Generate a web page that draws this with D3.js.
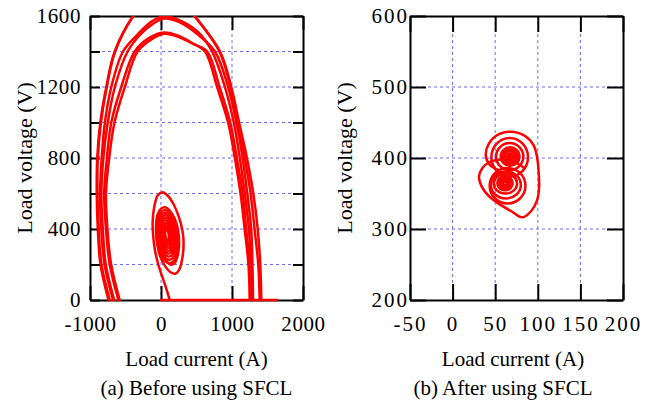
<!DOCTYPE html>
<html>
<head>
<meta charset="utf-8">
<script src="https://cdn.jsdelivr.net/npm/d3@7"></script>
<style>
  body { margin: 0; background: #fff; }
  svg text { font-family: "Liberation Serif", "Times New Roman", serif; fill: #000; }
</style>
</head>
<body>
<svg id="chart" width="656" height="404"></svg>
<script>
// ---------------- panel (a): before SFCL ----------------
const aXDomain = [-1000, 2000];
const aYDomain = [0, 1600];
const aXTicks = [-1000, 0, 1000, 2000];
const aXGrid = [0, 1000];
const aYTicks = [0, 200, 400, 600, 800, 1000, 1200, 1400, 1600];
const aYLabels = [0, 400, 800, 1200, 1600];
const aYGrid = [200, 400, 600, 800, 1000, 1200, 1400];

// large swings of the load voltage/current trajectory, [current A, voltage V]
const aLoopA1 = [[-740,0],[-852,200],[-890,400],[-905,600],[-898,800],[-855,1000],[-770,1200],[-652,1400],[-394,1600],[-200,1690],[40,1720],[280,1690],[474,1600],[831,1400],[990,1200],[1100,1000],[1210,800],[1300,600],[1362,400],[1398,200],[1413,0]];
const aLoopA2 = [[-722,0],[-838,200],[-878,400],[-895,600],[-890,800],[-846,1000],[-764,1200],[-646,1400],[-390,1600],[-196,1688],[42,1716],[280,1686],[470,1600],[822,1400],[978,1200],[1080,1000],[1180,800],[1262,600],[1318,400],[1370,200],[1390,0]];
const aLoopB1 = [[-676,0],[-795,200],[-840,400],[-858,600],[-835,800],[-790,1000],[-700,1200],[-535,1400],[-320,1500],[-130,1570],[40,1598],[250,1578],[520,1510],[720,1400],[900,1200],[1025,1000],[1110,800],[1180,600],[1238,400],[1268,200],[1280,0]];
const aLoopB2 = [[-660,0],[-778,200],[-820,400],[-840,600],[-812,800],[-750,1000],[-650,1200],[-470,1400],[-280,1500],[-100,1560],[50,1586],[260,1565],[520,1495],[760,1400],[945,1200],[1062,1000],[1150,800],[1215,600],[1270,400],[1288,200],[1296,0]];
const aLoopC1 = [[-600,0],[-722,200],[-775,400],[-800,600],[-762,800],[-700,1000],[-560,1200],[-370,1400],[-160,1478],[40,1507],[250,1488],[450,1445],[620,1400],[790,1200],[945,1000],[1040,800],[1120,600],[1178,400],[1232,200],[1249,0]];
const aLoopC2 = [[-582,0],[-702,200],[-755,400],[-775,600],[-730,800],[-655,1000],[-510,1200],[-330,1400],[-130,1470],[50,1500],[260,1480],[470,1440],[650,1400],[825,1200],[975,1000],[1068,800],[1150,600],[1200,400],[1250,200],[1262,0]];
const aClamp = [[0,0],[1634,0]];

// small post-fault orbit: entry tail and first two turns
const aOrbit = [[122,0],[70,70],[10,140],[-45,210],[-85,280],[-110,360],[-118,440],[-95,525],[-45,590],[21,607],[90,590],[170,545],[245,475],[300,395],[318,320],[300,235],[255,170],[200,148],[130,158],[50,195],[-15,250],[-55,320],[-70,410],[-50,480],[0,515],[56,523],[120,505],[190,460],[240,395],[255,320],[235,250],[185,205],[130,200],[60,230],[0,285],[-30,350]];
// inner turns of the same orbit: [centre A, centre V, half-width A, half-height V]
const aCoreRings = [[88,357,150,150],[87,359,130,133],[86,361,111,117],[86,362,93,101],[85,363,76,86],[85,364,61,71],[85,365,46,57],[85,366,33,45],[85,366,24,36]];

// ---------------- panel (b): after SFCL ----------------
const bXDomain = [-50, 200];
const bYDomain = [200, 600];
const bXTicks = [-50, 0, 50, 100, 150, 200];
const bXGrid = [0, 50, 100, 150];
const bYTicks = [200, 300, 400, 500, 600];
const bYLabels = [200, 300, 400, 500, 600];
const bYGrid = [300, 400, 500];

const bOrbit = [[84,386],[72,395],[56,398],[43,394],[35,386],[31,374],[34,360],[42,347],[55,335],[69,325],[82,316.5],[92,325],[99,340],[101.5,358],[101,380],[99,402],[95,418],[85,431],[68,437],[52,432],[42,419],[39,403],[44,390],[54,383]];
const bCoreRings = [
  [67.5,402,11,13],[67.5,402,8.5,10],[67.5,402,6,7.5],[67.5,402,3.5,4.5],[67.5,402,1.5,2],
  [67,402,16,19],[67,401,21.5,27],
  [61.5,364.5,9,10],[61.5,364.5,6.5,7.5],[61.5,364.5,4,5],[61.5,364.5,2,2.5],
  [62,364,13.7,14],[62.5,362,17.6,19],[64.5,361,21,25]
];

// ---------------- drawing ----------------
const svg = d3.select("#chart");
const RED = "#ff0000";
const GRID = "#6b6bff";

function panel(cfg) {
  const g = svg.append("g");
  const x = d3.scaleLinear().domain(cfg.xDomain).range([cfg.left, cfg.right]);
  const y = d3.scaleLinear().domain(cfg.yDomain).range([cfg.bottom, cfg.top]);

  // dashed grid
  g.append("g").selectAll("line").data(cfg.xGrid).join("line")
    .attr("x1", d => x(d)).attr("x2", d => x(d))
    .attr("y1", cfg.top).attr("y2", cfg.bottom)
    .attr("stroke", GRID).attr("stroke-width", 1).attr("stroke-dasharray", "3,3");
  g.append("g").selectAll("line").data(cfg.yGrid).join("line")
    .attr("x1", cfg.left).attr("x2", cfg.right)
    .attr("y1", d => y(d)).attr("y2", d => y(d))
    .attr("stroke", GRID).attr("stroke-width", 1).attr("stroke-dasharray", "3,3");

  // axes with inward ticks (mirrored on top/right)
  const yFmt = d => (cfg.yLabels.includes(d) ? String(d) : "");
  const style = sel => {
    sel.selectAll("path.domain").attr("stroke", "#000").attr("stroke-width", 2).attr("fill", "none");
    sel.selectAll(".tick line").attr("stroke", "#000").attr("stroke-width", 2);
    sel.selectAll("text").style("font-size", cfg.tickFont + "px")
      .style("letter-spacing", cfg.tickSpacing + "px")
      .style("font-family", '"Liberation Serif", serif');
  };
  g.append("g").attr("transform", `translate(0,${cfg.bottom})`)
    .call(d3.axisBottom(x).tickValues(cfg.xTicks).tickSize(-cfg.xTickLen).tickSizeOuter(0)
      .tickPadding(cfg.xPad).tickFormat(d => String(d)))
    .call(style);
  g.append("g").attr("transform", `translate(0,${cfg.top})`)
    .call(d3.axisTop(x).tickValues(cfg.xTicks).tickSize(-cfg.xTickLen).tickSizeOuter(0).tickFormat(""))
    .call(style);
  g.append("g").attr("transform", `translate(${cfg.left},0)`)
    .call(d3.axisLeft(y).tickValues(cfg.yTicks).tickSize(-cfg.yTickLen).tickSizeOuter(0)
      .tickPadding(cfg.yPad).tickFormat(yFmt))
    .call(style);
  g.append("g").attr("transform", `translate(${cfg.right},0)`)
    .call(d3.axisRight(y).tickValues(cfg.yTicks).tickSize(-cfg.yTickLen).tickSizeOuter(0).tickFormat(""))
    .call(style);

  // trajectory, clipped to the frame
  const clipId = "clip-" + cfg.id;
  svg.append("clipPath").attr("id", clipId).append("rect")
    .attr("x", cfg.left - 3).attr("y", cfg.top)
    .attr("width", cfg.right - cfg.left + 6).attr("height", cfg.bottom - cfg.top + 3);
  const plot = g.append("g").attr("clip-path", `url(#${clipId})`);
  const line = d3.line().x(d => x(d[0])).y(d => y(d[1])).curve(d3.curveCatmullRom.alpha(0.5));
  plot.selectAll("path").data(cfg.paths).join("path")
    .attr("d", line).attr("fill", "none").attr("stroke", RED)
    .attr("stroke-width", cfg.lineW).attr("stroke-linejoin", "round").attr("stroke-linecap", "round");
  plot.selectAll("ellipse").data(cfg.rings).join("ellipse")
    .attr("cx", d => x(d[0])).attr("cy", d => y(d[1]))
    .attr("rx", d => x(d[0] + d[2]) - x(d[0]))
    .attr("ry", d => y(d[1]) - y(d[1] + d[3]))
    .attr("transform", d => `rotate(${cfg.tilt},${x(d[0])},${y(d[1])})`)
    .attr("fill", "none").attr("stroke", RED).attr("stroke-width", cfg.ringW);

  // titles
  g.append("text").attr("transform", `translate(${cfg.yTitleX},${(cfg.top + cfg.bottom) / 2}) rotate(-90)`)
    .attr("text-anchor", "middle").style("font-size", "22px").text("Load voltage (V)");
  g.append("text").attr("x", cfg.xTitleX).attr("y", 366)
    .attr("text-anchor", "middle").style("font-size", "21px").text("Load current (A)");
  g.append("text").attr("x", cfg.captionX).attr("y", 395)
    .attr("text-anchor", "middle").style("font-size", "21px").text(cfg.caption);
}

panel({
  id: "a", left: 90, right: 303, top: 16, bottom: 300,
  xDomain: aXDomain, yDomain: aYDomain, xTicks: aXTicks, yTicks: aYTicks, yLabels: aYLabels,
  xGrid: aXGrid, yGrid: aYGrid, xTickLen: 14, yTickLen: 10, xPad: 16, yPad: 9,
  tickFont: 21, tickSpacing: 0.6,
  paths: [aLoopA1, aLoopA2, aLoopB1, aLoopB2, aLoopC1, aLoopC2, aClamp, aOrbit],
  rings: aCoreRings, tilt: -6, lineW: 2.5, ringW: 2.4,
  yTitleX: 32, xTitleX: 196.5, captionX: 196.5, caption: "(a) Before using SFCL"
});

panel({
  id: "b", left: 410, right: 623, top: 16, bottom: 300,
  xDomain: bXDomain, yDomain: bYDomain, xTicks: bXTicks, yTicks: bYTicks, yLabels: bYLabels,
  xGrid: bXGrid, yGrid: bYGrid, xTickLen: 16, yTickLen: 16, xPad: 16, yPad: 1,
  tickFont: 21, tickSpacing: 2,
  paths: [bOrbit], rings: bCoreRings, tilt: 0, lineW: 2.5, ringW: 2.5,
  yTitleX: 352, xTitleX: 513, captionX: 503, caption: "(b) After using SFCL"
});
</script>
</body>
</html>
